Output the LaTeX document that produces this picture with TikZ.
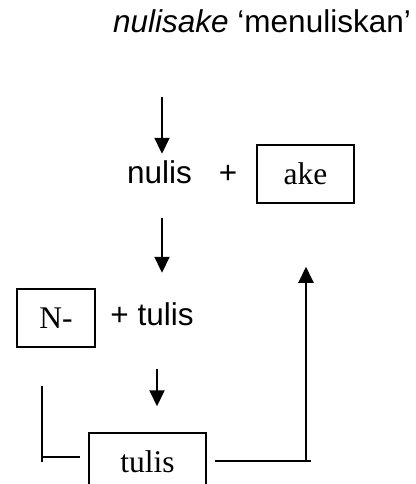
\documentclass[tikz,border=0pt]{standalone}
\usepackage{fontspec}
\setmainfont{Liberation Serif}
\setsansfont{Liberation Sans}
\usetikzlibrary{arrows.meta}

\tikzset{
  word/.style={font=\sffamily\fontsize{15.75}{19}\selectfont, inner sep=0pt},
  morph/.style={draw, line width=0.75pt, font=\fontsize{15.75}{19}\selectfont, minimum height=29pt, inner sep=0pt},
  arr/.style={line width=1pt, -{Triangle[width=7.5pt,length=8pt]}},
  link/.style={line width=1pt}
}

\begin{document}
\begin{tikzpicture}[x=0.5pt,y=-0.5pt]
\useasboundingbox (0,0) rectangle (416,484);

% title
\node[word, anchor=base] (title) at (262,32) {\itshape nulisake\upshape{} ‘menuliskan’};

% first step
\node[word, anchor=base] (nulis) at (159.5,183) {nulis};
\node[word] (plus) at (228,174) {+};
\node[morph, minimum width=48.5pt] (ake) at (305.5,174) {ake};

% second step
\node[morph, minimum width=39pt] (nbox) at (56,318) {N-};
\node[word, anchor=base] (plustulis) at (152,325) {+ tulis};

% base
\node[morph, minimum width=58.5pt] (tulis) at (147.5,462) {tulis};

\coordinate (a1) at (162,97);
\coordinate (a3) at (157,369);
\coordinate (lcorner) at (42,457);
\coordinate (rcorner) at (306,461);

\draw[arr, shorten >=3pt] (a1) -- (a1 |- nulis.north);
\draw[arr, shorten <=17pt, shorten >=14.5pt] (a1 |- nulis.south) -- (a1 |- plustulis.north);
\draw[arr, shorten >=13pt] (a3) -- (a3 |- tulis.north);

\draw[link] ([yshift=-19pt]nbox.south -| lcorner) -- (lcorner) -- ([xshift=-4pt]tulis.west |- lcorner);
\draw[link] (lcorner) -- ++(0,5);
\draw[arr, shorten >=31.5pt] ([xshift=4pt]tulis.east |- rcorner) -- (rcorner) -- (rcorner |- ake.south);
\draw[link] (rcorner) -- ++(5,0);

\end{tikzpicture}
\end{document}
